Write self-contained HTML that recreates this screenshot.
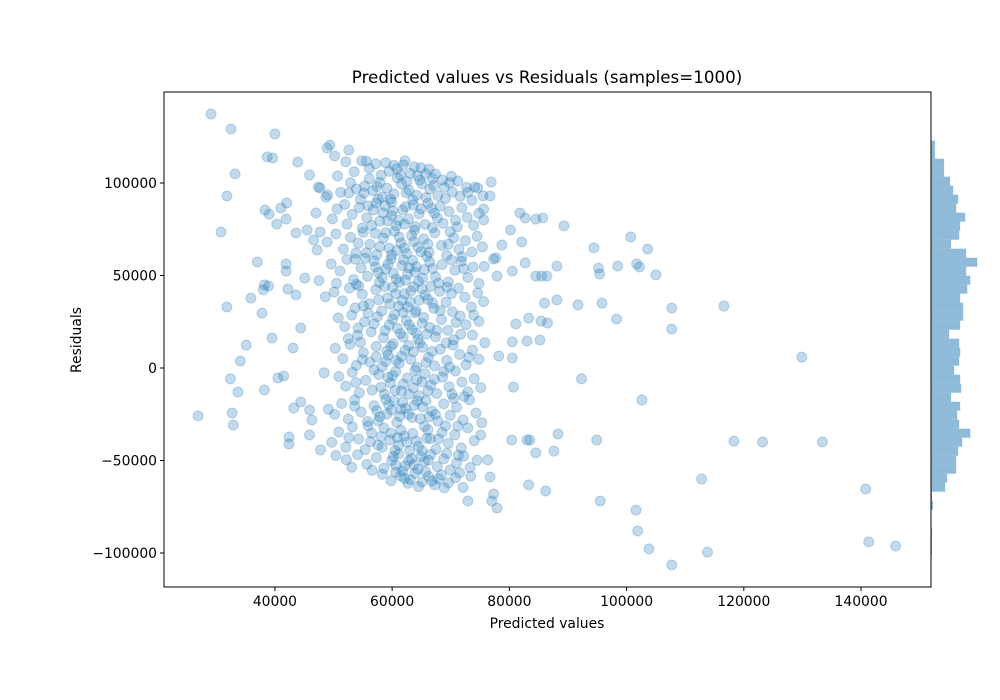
<!DOCTYPE html>
<html><head><meta charset="utf-8"><style>
body{margin:0;background:#fff;}
svg{display:block;font-family:"DejaVu Sans","Liberation Sans",sans-serif;}
</style></head><body>
<svg id="chart" width="1000" height="700" viewBox="0 0 1000 700">
<rect width="1000" height="700" fill="#fff"/>
<g id="points"></g>
<g id="hist"></g>
<rect x="164" y="92" width="767" height="495" fill="none" stroke="#000" stroke-width="1"/>
<g id="xticks"></g>
<g id="yticks"></g>
<text x="547" y="83" font-size="16.7" text-anchor="middle">Predicted values vs Residuals (samples=1000)</text>
<text x="547" y="628" font-size="13.9" text-anchor="middle">Predicted values</text>
<text x="81" y="340" font-size="13.9" text-anchor="middle" transform="rotate(-90 81 340)">Residuals</text>
</svg>
<script>
const xTicks=[40000,60000,80000,100000,120000,140000];
const yTicks=[100000,50000,0,-50000,-100000];
// values in thousands: [predicted, residual]
const sparsePoints=[[29.1,137.3],[32.5,129.2],[40,126.5],[33.2,104.9],[38.7,114.1],[39.6,113.5],[31.8,93],[30.8,73.5],[43.9,111.3],[45.9,104.3],[47.4,97.8],[49,93.5],[50.7,103.8],[48.9,118.9],[49.4,120.5],[52.6,117.8],[50.2,114.6],[37,57.3],[38.2,44.9],[38,42.2],[38.9,44.3],[31.8,33],[37.8,29.7],[39.5,16.2],[35.1,12.4],[34.1,3.8],[32.4,-5.9],[33.7,-13],[38.2,-11.9],[40.5,-5.4],[41.5,-4.3],[26.9,-25.9],[32.7,-24.3],[32.9,-30.8],[42.4,-37.3],[42.4,-41.1],[45.9,-36.2],[43.2,-21.6],[44.4,-18.4],[45.9,-22.7],[46.3,-28.1],[35.9,37.8],[43.1,10.8],[44.4,21.6],[45.1,48.6],[43.6,39.5],[42.2,42.7],[41.9,56.2],[41.9,52.4],[43.6,73],[45.5,74.6],[46.6,69.2],[47.7,73.5],[40.3,77.8],[41.9,80.5],[41,86.5],[42,89.2],[38.3,85.4],[39,83.2],[47.7,97.3],[48.7,92.4],[47,83.8],
[129.9,5.9],[92.3,-5.9],[102.6,-17.3],[123.2,-40],[118.3,-39.5],[133.4,-40],[112.8,-60],[140.8,-65.4],[101.6,-76.8],[101.9,-88.1],[103.8,-97.8],[113.8,-99.5],[107.7,-106.5],[141.3,-94],[145.9,-96.2],[100.7,70.8],[101.7,56.2],[102.2,54.6],[103.6,64.3],[105,50.3],[98.5,55.1],[95.2,54],[95.4,50.8],[94.4,64.9],[95.8,35.1],[91.7,34.1],[98.3,26.5],[107.7,32.4],[107.7,21.1],[116.6,33.5],[94.9,-38.9],[95.5,-71.9],[89.3,76.8],[88.3,-35.7],[87.6,-44.9],[86.2,-66.5],[83.3,-63.2],[84.5,-45.9],[83.5,-38.9],[80.7,-10.3],[80.5,5.4],[78.2,6.5],[80.5,14.1],[83,14.6],[85.2,15.1],[81.1,23.8],[85.4,25.4],[86.5,24.3],[86,35.1],[88.1,36.8],[83.3,27],[88.1,55.1],[85.5,49.7],[86.4,49.7],[84.5,49.7],[81.8,83.8],[82.7,81.1],[84.5,80.5],[85.7,81.1],[82.1,68.1],[82.7,56.8],[80.5,52.4],[77.7,59.5],[77.9,49.7],[80.2,74.6],[78.7,66.5],[77.3,58.9],[76.7,93],[76.9,100.5],[74.6,97.3],[75.6,85.9],[80.4,-38.9],[83,-38.9],[77,-71.9],[77.9,-75.7],[77.3,-68.1],[76.7,-58.9],[76.3,-49.7],[72.9,-71.9]];
const corePoints=[[52.1,111.5],[54.8,112],[55.6,111.8],[57.2,110.4],[58.9,111],[60.3,109.5],[62.2,112],[63.8,108.7],[64.9,108.2],[66.3,107.5],[65.7,105],[67.4,104.8],[70.1,103.6],[71.2,101.1],[72.7,97.6],[53.5,106.1],[56.1,107.9],[59.5,106.3],[61.4,104.5],[63.1,105.2],[68.6,101.6],[69.8,100.2],[66.9,102.4],[60.8,107.7],[62.5,100.8],
[51.2,95],[52.6,94.6],[53.9,96.8],[55.3,98.3],[56.7,95.9],[57.9,100.4],[59.1,97.2],[60.3,94.1],[61.6,99.5],[62.9,96.1],[64.2,93.4],[65.1,99.6],[66.4,96.7],[67.8,93.2],[68.9,97.6],[70.3,95.1],[71.6,92.8],[72.9,94.9],[74.1,97.8],[75.5,93.1],[54.6,91.2],[58.3,92.5],[63.5,90.8],[69.1,91.7],[73.6,90.6],[56.1,102.3],[60.9,102.7],[64.7,101.5],[52.9,100.1],[59.9,89.7],
[50.6,86],[51.9,88.4],[53.2,83.1],[54.4,86.8],[55.7,81.2],[56.8,85.5],[57.9,79.4],[58.8,87.7],[59.9,82.4],[60.7,76.9],[61.8,85.4],[62.8,80.6],[63.6,88.1],[64.6,83.3],[65.6,77.6],[66.7,86.3],[67.7,81.1],[68.7,78.2],[69.7,84.6],[70.8,79.9],[71.9,86.7],[72.8,81.4],[73.9,77.1],[74.8,83.6],[75.6,80.1],[52.3,77.8],[54.9,75.6],[57.3,89.2],[61.1,79.8],[63.9,76.4],[66.1,89],[68.2,87.5],[71.1,76.2],[49.8,80.6],[58.4,83.9],
[48.9,68.1],[50.4,72.5],[51.7,64.3],[52.9,70.6],[53.8,62.1],[55.1,73.4],[56.2,66.8],[57.4,61.3],[58.5,70.2],[59.5,64.7],[60.4,73.9],[61.5,67.5],[62.5,61.9],[63.3,71.6],[64.4,65.3],[65.4,69.8],[66.3,62.6],[67.3,73.1],[68.4,66.2],[69.3,60.9],[70.5,70.4],[71.4,64.1],[72.5,68.8],[73.6,62.7],[74.5,71.2],[75.4,65.5],[54.2,67.5],[57.1,72.8],[62.1,64.9],[65.9,60.4],[69.9,73.6],[59.9,61.1],[47.2,63.8],[63.8,74.5],
[49.6,56.2],[51.1,52.4],[52.3,58.7],[53.4,47.8],[54.7,54.1],[55.8,49.6],[56.9,57.9],[57.8,46.2],[58.9,53.6],[59.8,58.9],[60.7,48.1],[61.7,55.4],[62.6,50.7],[63.5,58.1],[64.5,46.8],[65.5,53.2],[66.4,57.4],[67.4,49.3],[68.5,55.9],[69.6,46.5],[70.7,52.8],[71.8,57.6],[72.9,48.9],[73.8,54.5],[74.8,45.7],[75.7,54.9],[53.9,45.2],[57.6,51.6],[61.2,46.3],[64.1,54.8],[67.9,45.9],[70.1,58.4],[72.2,53.7],[55.4,59.3],[62.9,54.1],[47.5,47.3],[50.5,45.8],
[50.1,41.1],[51.5,36.4],[52.7,43.2],[53.7,32.5],[54.9,39.8],[56.1,34.7],[57.2,42.4],[58.2,30.8],[59.2,37.9],[60.1,43.6],[61.1,33.4],[62.1,40.2],[63.1,35.8],[64.1,30.9],[65.1,42.7],[66.1,37.1],[67.1,32.2],[68.1,41.5],[69.2,35.5],[70.3,30.3],[71.3,43.1],[72.4,38.2],[73.5,32.9],[74.6,40.6],[75.6,35.9],[54.3,44.4],[58.7,44.1],[63.7,43.9],[69.4,43.7],[61.9,30.1],[66.6,44.2],[48.6,38.5],
[50.8,27.1],[51.9,22.4],[53.1,28.6],[54.1,17.7],[55.3,24.9],[56.4,19.5],[57.5,27.8],[58.5,16.4],[59.5,23.3],[60.4,28.9],[61.4,18.6],[62.4,25.7],[63.4,20.8],[64.4,15.6],[65.4,27.3],[66.4,21.9],[67.4,16.8],[68.4,26.2],[69.5,20.3],[70.5,15.2],[71.6,28.1],[72.6,23.4],[73.7,17.8],[74.8,25.2],[55.9,29.6],[60.9,21.4],[65.9,18.3],[70.9,24.6],[52.5,15.9],[63.9,29.9],
[50.3,10.6],[51.6,5.1],[52.8,12.8],[53.9,1.4],[55.1,8.3],[56.2,3.2],[57.3,11.7],[58.3,0.8],[59.3,6.9],[60.2,13.1],[61.2,2.6],[62.2,9.5],[63.2,4.6],[64.2,0.3],[65.2,11.2],[66.2,5.8],[67.2,1.2],[68.2,10.1],[69.3,4.1],[70.4,12.4],[71.5,7.3],[72.6,1.8],[73.7,9.6],[74.8,4.7],[75.8,13.6],[54.6,13.9],[59.8,11.8],[64.7,13.5],[69.8,0.5],[56.9,-1.1],
[50.9,-4.6],[52.1,-9.8],[53.2,-2.3],[54.4,-13.4],[55.5,-6.7],[56.6,-11.9],[57.7,-3.5],[58.7,-14.2],[59.7,-8.1],[60.6,-1.9],[61.6,-12.6],[62.6,-5.4],[63.6,-10.7],[64.6,-14.9],[65.6,-3.1],[66.6,-9.2],[67.6,-13.8],[68.6,-4.9],[69.7,-10.1],[70.8,-1.6],[71.9,-7.6],[72.9,-12.9],[74,-5.8],[75.1,-10.6],[53.8,-7.9],[60.1,-4.1],[65.1,-7.5],[70.2,-14.1],[48.4,-2.6],[63.9,-1.2],
[50.2,-25.1],[51.4,-19.2],[52.5,-27.6],[53.6,-17.3],[54.7,-23.8],[55.8,-28.9],[56.9,-20.4],[57.9,-26.3],[58.9,-16.9],[59.9,-22.7],[60.8,-29.4],[61.8,-18.5],[62.8,-24.9],[63.8,-20.1],[64.8,-27.4],[65.8,-17.6],[66.8,-23.3],[67.8,-28.7],[68.8,-19.4],[69.9,-25.6],[71,-21.2],[72.1,-28.1],[73.2,-17.2],[74.3,-24.3],[75.3,-29.6],[49.1,-22.3],[57.4,-23.1],[61.3,-26.1],[66.3,-26.3],[70.5,-16.4],[62.3,-21.9],[59.4,-19.8],
[49.7,-40.2],[50.9,-34.6],[52.1,-42.8],[53.2,-31.9],[54.3,-38.4],[55.4,-44.1],[56.5,-35.2],[57.6,-41.7],[58.6,-32.5],[59.6,-38.9],[60.5,-44.6],[61.5,-33.7],[62.5,-40.1],[63.5,-35.4],[64.5,-42.3],[65.5,-31.6],[66.5,-38.2],[67.5,-43.9],[68.5,-34.8],[69.6,-40.7],[70.7,-36.1],[71.8,-43.2],[72.9,-32.4],[74,-39.3],[75.1,-36.2],[47.8,-44.3],[55.9,-31.2],[60.9,-37.6],[65.9,-37.9],[71.2,-31.4],[63,-44.8],[58.1,-37.1],
[50.4,-47.3],[52.2,-49.6],[54.1,-46.8],[55.7,-52.1],[57.3,-48.4],[58.6,-54.2],[59.9,-50.1],[61.1,-46.5],[62.2,-52.9],[63.3,-48.9],[64.4,-54.7],[65.5,-50.6],[66.6,-46.7],[67.7,-53.3],[68.8,-49.2],[69.9,-55.1],[71,-51.4],[72.2,-47.6],[73.3,-53.8],[74.5,-49.9],[53.1,-53.6],[56.6,-55.3],[60.6,-52.5],[64.9,-47.8],[69.3,-46.2],[62.8,-50.1],
[58.3,-57.4],[59.8,-60.9],[61.4,-58.2],[62.7,-62.4],[63.9,-56.9],[65.1,-61.7],[66.2,-58.6],[67.3,-63.2],[68.4,-57.8],[69.6,-62.1],[70.8,-59.3],[72.1,-64.6],[73.4,-58.5],[64.5,-64.1],[66.8,-61.1],[60.6,-56.3],[71.5,-56.7],[68.9,-64.8]];
const densePoints=[[58.1,104.2],[61.9,109.8],[64.3,103.9],[67.1,98.7],[57.4,98.1],[62.4,94.8],[65.8,92.1],[59.7,91.3],[55.9,87.6],[60.1,84.9],[62.3,87.2],[64.9,86.1],[67.2,83.7],[59.2,79.6],[62.1,77.8],[66.9,75.9],[56.5,77.1],[58.9,73.1],[61.2,70.8],[63.7,68.4],[66.1,66.9],[60.8,63.5],[64.9,62.8],[57.9,65.6],[55.6,62.3],[59.3,56.1],[61.9,58.6],[63.9,51.9],[66.9,53.8],[60.2,51.2],[57.1,54.6],[65.2,48.6],[62.3,47.4],[58.3,48.9],[60.6,40.1],[63.2,41.6],[65.6,39.4],[59.6,34.6],[62.6,32.9],[66.9,35.1],[57.7,36.8],[61.7,36.5],[64.6,36.7],[60.1,26.4],[62.9,23.3],[65.1,24.1],[58.8,20.2],[61.9,16.7],[64.1,18.9],[67.6,20.4],[56.9,23.9],[59.1,9.2],[61.6,6.4],[63.6,8.8],[65.8,2.9],[60.7,4.1],[58.9,3.5],[62.8,12.1],[66.8,8.9],[59.3,-5.1],[61.9,-8.8],[64.2,-6.3],[66.1,-12.3],[58.1,-10.4],[62.9,-14.1],[60.5,-12.1],[67.2,-6.1],[59.1,-24.9],[61.5,-22.3],[63.4,-26.8],[65.2,-21.1],[57.6,-28.6],[64.3,-17.8],[60.3,-17.6],[67.4,-25.1],[59.8,-35.2],[62.1,-36.9],[64.1,-39.5],[66.1,-33.4],[61.1,-41.8],[58.3,-42.9],[65.1,-44.7],[67.9,-38.3],[60.2,-47.8],[63.7,-52.3],[66.2,-49.9],[61.8,-55.6],[65.7,-56.1],[62.1,-59.6],[67.9,-59.9],[63.1,-60.3],[55.1,33.6],[54.2,21.6],[53.6,-20.6],[56.3,-39.8],[54.9,4.6],[70.1,40.2],[71.7,18.2],[69.1,-31.3],[71.3,-47.2],[69.6,66.9],[71.9,60.1],[72.3,-15.4],[73.1,5.8],[68.8,-1.8],[55.2,94.6],[57.6,91.3],[53.7,58.8],[52.6,-37.7],[68.2,31.1],[73.9,28.6],[57.3,6.1],[69.2,13.5]];
// histogram bins, top (highest residual) to bottom
const histTop=122860;
const histBinWidth=4865;
const histCounts=[4,4,13,13,19,22,27,25,34,29,28,20,35,46,35,39,36,29,32,32,29,18,28,29,28,23,29,30,20,29,26,28,39,31,27,25,25,16,14,1,2,0,0,1,1,1];

const X0=164,X1=931,Y0=92,Y1=587;
const xMin=21074,xMax=151935,yMin=-118378,yMax=149190;
function xs(v){return X0+(v-xMin)/(xMax-xMin)*(X1-X0);}
function ys(v){return Y1-(v-yMin)/(yMax-yMin)*(Y1-Y0);}
function hx(c){return c*1.007;}
const NS='http://www.w3.org/2000/svg';
const gp=document.getElementById('points');
sparsePoints.concat(corePoints,densePoints).forEach(p=>{
  const c=document.createElementNS(NS,'circle');
  c.setAttribute('cx',xs(p[0]*1000).toFixed(1));
  c.setAttribute('cy',ys(p[1]*1000).toFixed(1));
  c.setAttribute('r','5');
  c.setAttribute('fill','rgba(31,119,180,0.27)');
  c.setAttribute('stroke','rgba(31,119,180,0.27)');
  c.setAttribute('stroke-width','1');
  
  
  gp.appendChild(c);
});
const gh=document.getElementById('hist');
histCounts.forEach((n,i)=>{
  if(!n)return;
  const top=histTop-i*histBinWidth, bot=top-histBinWidth;
  const r=document.createElementNS(NS,'rect');
  r.setAttribute('x',X1);
  r.setAttribute('y',ys(top).toFixed(1));
  r.setAttribute('width',hx(n).toFixed(1));
  r.setAttribute('height',(ys(bot)-ys(top)).toFixed(1));
  r.setAttribute('fill','rgba(31,119,180,0.5)');
  
  
  gh.appendChild(r);
});
const gx=document.getElementById('xticks');
xTicks.forEach(t=>{
  const x=xs(t);
  const l=document.createElementNS(NS,'line');
  l.setAttribute('x1',x);l.setAttribute('x2',x);l.setAttribute('y1',Y1);l.setAttribute('y2',Y1+4);
  l.setAttribute('stroke','#000');
  
  
  gx.appendChild(l);
  const tx=document.createElementNS(NS,'text');
  tx.setAttribute('x',x);tx.setAttribute('y',Y1+19);tx.setAttribute('font-size','13.9');tx.setAttribute('text-anchor','middle');
  tx.textContent=t;
  
  
  gx.appendChild(tx);
});
const gy=document.getElementById('yticks');
yTicks.forEach(t=>{
  const y=ys(t);
  const l=document.createElementNS(NS,'line');
  l.setAttribute('x1',X0-4);l.setAttribute('x2',X0);l.setAttribute('y1',y);l.setAttribute('y2',y);
  l.setAttribute('stroke','#000');
  
  
  gy.appendChild(l);
  const tx=document.createElementNS(NS,'text');
  tx.setAttribute('x',X0-7);tx.setAttribute('y',y+5);tx.setAttribute('font-size','13.9');tx.setAttribute('text-anchor','end');
  tx.textContent=t<0?'\u2212'+(-t):String(t);
  
  
  gy.appendChild(tx);
});
</script>
</body></html>
